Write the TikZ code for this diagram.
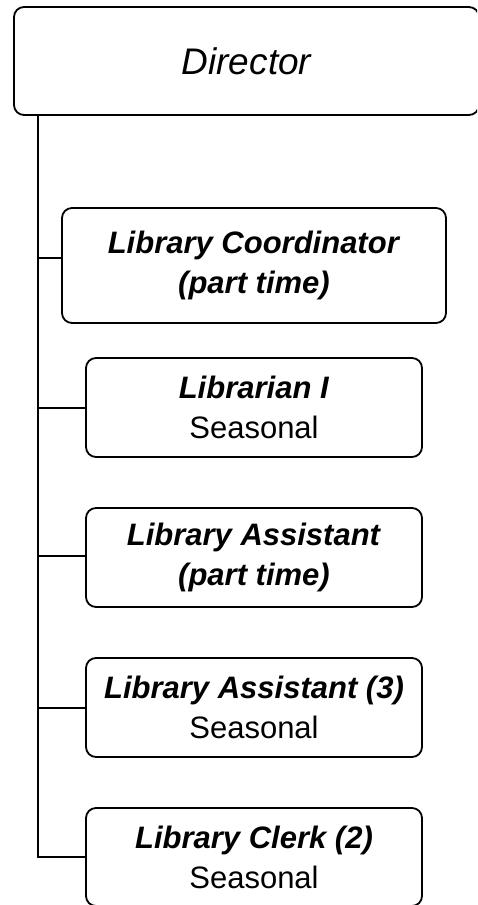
\documentclass[tikz,border=0pt]{standalone}
\usepackage{fontspec}
\setmainfont{Liberation Sans}
\begin{document}
\begin{tikzpicture}[x=1pt,y=-1pt,
  line width=1.8pt,
  orgbox/.style={draw,rounded corners=10pt,inner sep=0pt,align=center,
    font=\fontsize{31}{40}\selectfont},
  link/.style={draw,line width=1.8pt}]
\useasboundingbox (0,0) rectangle (477,905);
\clip (0,0) rectangle (477,905);

% head of the chart
\node[orgbox,minimum width=465pt,minimum height=108pt,
  font=\fontsize{37}{42}\selectfont\itshape] (dir) at (246.5,61) {Director};

% reporting positions
\node[orgbox,minimum width=384pt,minimum height=115pt] (coord) at (254,265.5)
  {\textbf{\textit{Library Coordinator}}\\\textbf{\textit{(part time)}}};
\node[orgbox,minimum width=336pt,minimum height=99pt] (lib) at (254,407.5)
  {\textbf{\textit{Librarian I}}\\Seasonal};
\node[orgbox,minimum width=336pt,minimum height=99pt] (asstpt) at (254,557.5)
  {\textbf{\textit{Library Assistant}}\\\textbf{\textit{(part time)}}};
\node[orgbox,minimum width=336pt,minimum height=99pt] (asst) at (254,707.5)
  {\textbf{\textit{Library Assistant (3)}}\\Seasonal};
\node[orgbox,minimum width=336pt,minimum height=98pt] (clerk) at (254,857)
  {\textbf{\textit{Library Clerk (2)}}\\Seasonal};

% spine and branch points
\coordinate (top) at (38,115);
\coordinate (b1) at (38,258);
\coordinate (b2) at (38,408);
\coordinate (b3) at (38,556);
\coordinate (b4) at (38,708);
\coordinate (b5) at (38,857);

\draw[link] (top) -- (b5) -- (b5 -| clerk.west);
\draw[link] (b1) -- (b1 -| coord.west);
\draw[link] (b2) -- (b2 -| lib.west);
\draw[link] (b3) -- (b3 -| asstpt.west);
\draw[link] (b4) -- (b4 -| asst.west);
\end{tikzpicture}
\end{document}
